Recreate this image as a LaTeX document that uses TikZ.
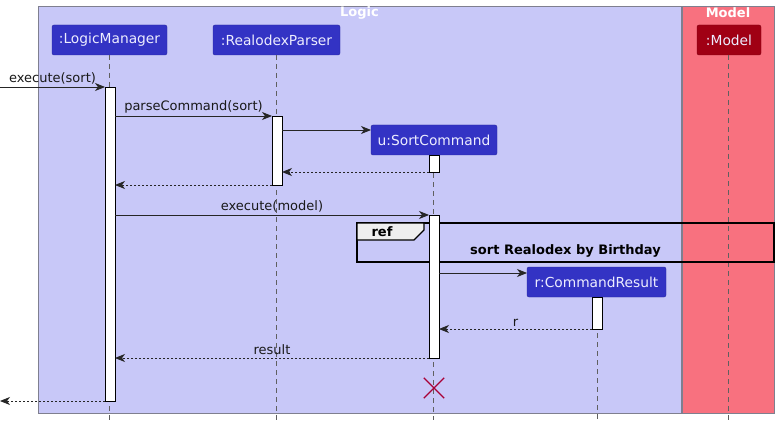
\documentclass[tikz,border=0pt]{standalone}
\usepackage{fontspec}
\setmainfont{DejaVu Sans}
\usetikzlibrary{arrows.meta}
\definecolor{logicbg}{HTML}{C8C8F8}
\definecolor{modelbg}{HTML}{F8717F}
\definecolor{groupline}{HTML}{7F7F8F}
\definecolor{partblue}{HTML}{3333C4}
\definecolor{partblueline}{HTML}{2828A0}
\definecolor{partred}{HTML}{A00014}
\definecolor{partredline}{HTML}{800010}
\definecolor{lifegrey}{HTML}{606060}
\definecolor{destroyred}{HTML}{A80036}
\definecolor{reftab}{HTML}{EEEEEE}
\tikzset{
  groupbox/.style={draw=groupline, line width=0.8pt},
  grouptitle/.style={text=white, font=\fontsize{13}{15}\selectfont\bfseries, inner sep=0pt},
  participant/.style={draw=partblueline, fill=partblue, text=white!93!blue, rounded corners=2pt,
    minimum height=30pt, inner sep=0pt, outer sep=0pt, font=\fontsize{13.8}{16}\selectfont},
  redparticipant/.style={participant, draw=partredline, fill=partred},
  lifeline/.style={draw=lifegrey, line width=0.7pt, dash pattern=on 5pt off 4pt},
  actbar/.style={draw=black, fill=white, line width=0.9pt, minimum width=10pt, inner sep=0pt, outer sep=0pt},
  msg/.style={draw=black!85, line width=0.9pt, -{Stealth[length=10pt,width=8pt,inset=3pt]}},
  retmsg/.style={msg, dash pattern=on 2pt off 2pt},
  msglabel/.style={anchor=south, inner sep=0pt, yshift=2.5pt, font=\fontsize{13}{15}\selectfont, text=black!90},
}
\begin{document}
\begin{tikzpicture}[x=1pt,y=-1pt]
\useasboundingbox (0,0) rectangle (779,425);
% groups
\draw[groupbox, fill=logicbg] (38,6) rectangle (681,413);
\draw[groupbox, fill=modelbg] (682,6) rectangle (774,413);
\node[grouptitle] (logictitle) at (359.5,13) {Logic};
\node[grouptitle] (modeltitle) at (728,13) {Model};
% participants
\node[participant, minimum width=115pt] (lm) at (109.5,40) {:LogicManager};
\node[participant, minimum width=127pt] (rp) at (276.5,40) {:RealodexParser};
\node[redparticipant, minimum width=64pt] (md) at (729,40) {:Model};
\node[participant, minimum width=126pt] (sc) at (434,140) {u:SortCommand};
\node[participant, minimum width=139pt] (cr) at (596.5,282) {r:CommandResult};
% lifeline ends
\coordinate (lmend) at (109,420);
\coordinate (rpend) at (276,420);
\coordinate (mdend) at (728,420);
\coordinate (scend) at (433,420);
\coordinate (crend) at (597,420);
\draw[lifeline] (lm.south -| lmend) -- (lmend);
\draw[lifeline] (rp.south -| rpend) -- (rpend);
\draw[lifeline] (md.south -| mdend) -- (mdend);
\draw[lifeline] (sc.south -| scend) -- (scend);
\draw[lifeline] (cr.south -| crend) -- (crend);
% ref frame
\draw[line width=1.4pt, black] (357,223) rectangle (774,262);
\draw[line width=1.4pt, black, fill=reftab] (357,223) -- (424,223) -- (424,230) -- (414,240) -- (357,240) -- cycle;
\node[font=\fontsize{13}{15}\selectfont\bfseries, inner sep=0pt] (reflabel) at (382,232) {ref};
\node[font=\fontsize{13}{15}\selectfont\bfseries, inner sep=0pt] (refbody) at (565.5,251) {sort Realodex by Birthday};
% activation bars
\node[actbar, minimum height=314pt] (lma) at (110,244) {};
\node[actbar, minimum height=69pt] (rpa) at (277,150.5) {};
\node[actbar, minimum height=17pt] (sca1) at (434,163.5) {};
\node[actbar, minimum height=143pt] (sca2) at (434,286.5) {};
\node[actbar, minimum height=32pt] (cra) at (597,313) {};
% free ends
\coordinate (callin) at (0,87);
\coordinate (retout) at (0,401);
% messages
\draw[msg] (callin) -- (lma.west |- callin) node[msglabel, pos=0.5] {execute(sort)};
\draw[msg] (lma.east |- 0,116) -- (rpa.west |- 0,116) node[msglabel, pos=0.5] {parseCommand(sort)};
\draw[msg] (rpa.east |- 0,130) -- (sc.west |- 0,130);
\draw[retmsg] (sca1.west |- 0,172) -- (rpa.east |- 0,172);
\draw[retmsg] (rpa.west |- 0,185) -- (lma.east |- 0,185);
\draw[msg] (lma.east |- 0,215) -- (sca2.west |- 0,215) node[msglabel, pos=0.5] {execute(model)};
\draw[msg] (sca2.east |- 0,273) -- (cr.west |- 0,273);
\draw[retmsg] (cra.west |- 0,329) -- (sca2.east |- 0,329) node[msglabel, pos=0.5] {r};
\draw[retmsg] (sca2.west |- 0,358) -- (lma.east |- 0,358) node[msglabel, pos=0.5] {result};
\draw[retmsg] (lma.west |- retout) -- (retout);
% destroy
\node[inner sep=0pt, minimum size=20pt] (destroy) at (434,388) {};
\draw[destroyred, line width=1.3pt] (destroy.north west) -- (destroy.south east)
  (destroy.north east) -- (destroy.south west);
\end{tikzpicture}
\end{document}
